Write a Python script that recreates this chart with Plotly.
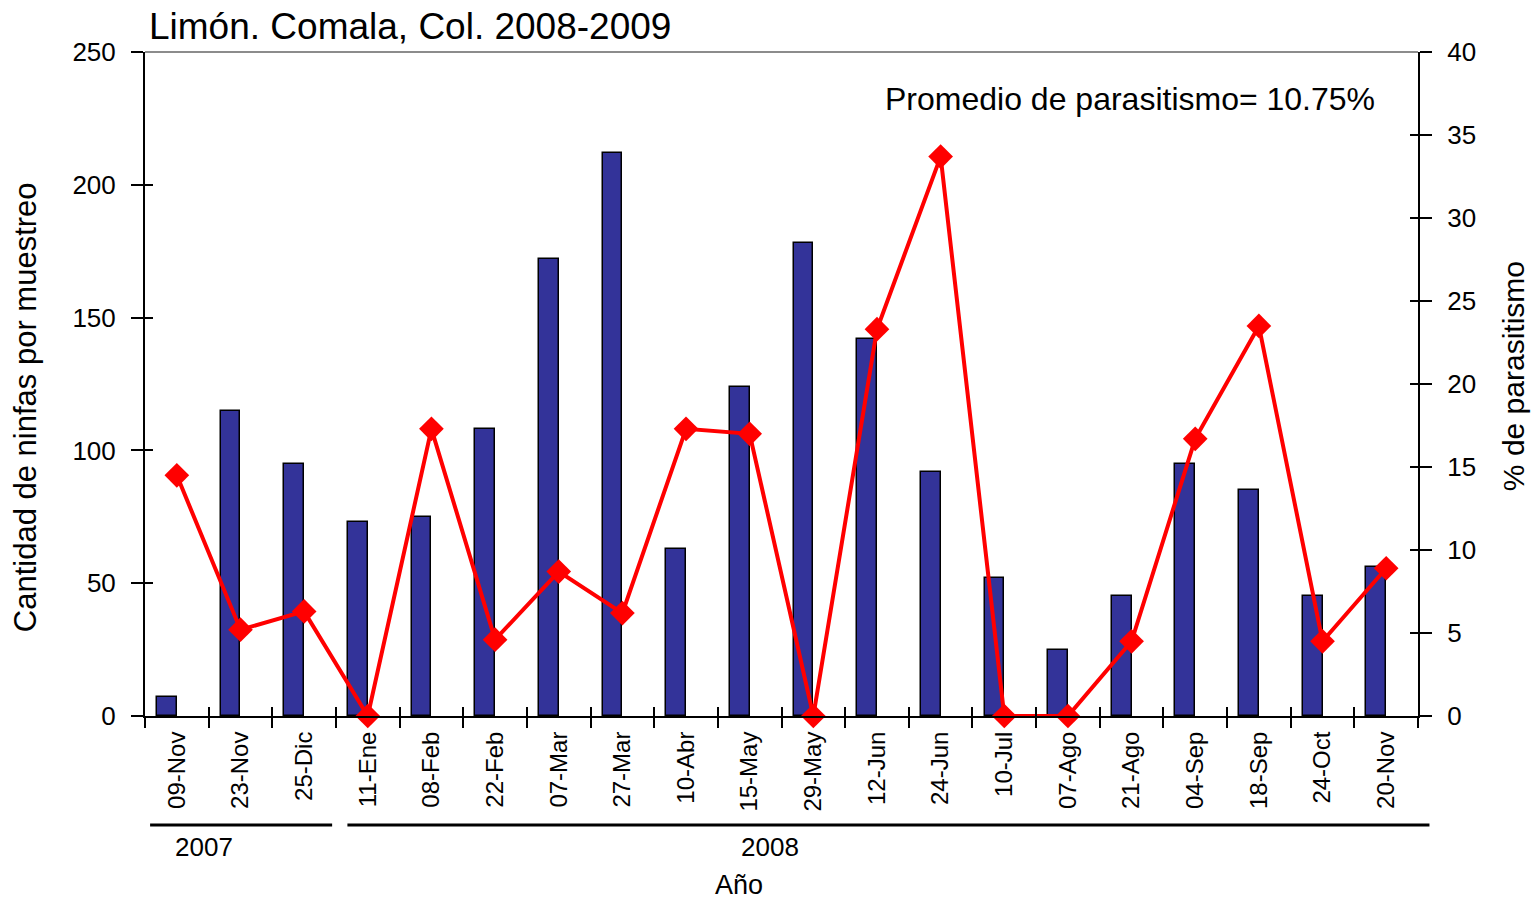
import plotly.graph_objects as go

fechas = ["09-Nov", "23-Nov", "25-Dic", "11-Ene", "08-Feb", "22-Feb", "07-Mar", "27-Mar",
          "10-Abr", "15-May", "29-May", "12-Jun", "24-Jun", "10-Jul", "07-Ago", "21-Ago",
          "04-Sep", "18-Sep", "24-Oct", "20-Nov"]
ninfas = [7, 115, 95, 73, 75, 108, 172, 212, 63, 124, 178, 142, 92, 52, 25, 45, 95, 85, 45, 56]
parasitismo = [14.5, 5.2, 6.3, 0, 17.3, 4.6, 8.7, 6.2, 17.3, 17.0, 0, 23.3, 33.7, 0, 0, 4.5,
               16.7, 23.5, 4.5, 8.9]
anios = ["2007", "2008"]

FONT = "Arial, Liberation Sans, sans-serif"
n = len(fechas)

fig = go.Figure()
fig.add_trace(go.Bar(
    x=fechas, y=ninfas, width=0.31, offset=-0.31,
    marker=dict(color="#333399", line=dict(color="black", width=1.5)),
    xaxis="x", yaxis="y", showlegend=False,
))
fig.add_trace(go.Scatter(
    x=fechas, y=parasitismo, mode="lines+markers",
    line=dict(color="#FF0000", width=4),
    marker=dict(symbol="diamond", size=19, color="#FF0000"),
    xaxis="x", yaxis="y2", cliponaxis=False, showlegend=False,
))
# dummy traces so overlay axes (inside tick halves) are drawn
fig.add_trace(go.Scatter(x=[None], y=[None], xaxis="x3", yaxis="y3", showlegend=False, hoverinfo="skip"))
fig.add_trace(go.Scatter(x=[None], y=[None], xaxis="x3", yaxis="y4", showlegend=False, hoverinfo="skip"))

tick_font = dict(family=FONT, size=26, color="black")

fig.update_layout(
    width=1533, height=900,
    margin=dict(l=145, r=115, t=52, b=184),
    paper_bgcolor="white", plot_bgcolor="white",
    font=dict(family=FONT, color="black"),
    bargap=0,
    xaxis=dict(
        type="category", categoryorder="array", categoryarray=fechas,
        range=[-0.5, n - 0.5], tickson="boundaries",
        ticks="outside", ticklen=10, tickwidth=2, tickcolor="black",
        showline=True, linecolor="black", linewidth=2,
        showgrid=False, zeroline=False,
        tickangle=-90, tickfont=dict(family=FONT, size=24, color="black"),
        ticklabelstandoff=4,
        anchor="y",
    ),
    xaxis3=dict(
        overlaying="x", range=[-0.5, n - 0.5],
        tickmode="array", tickvals=[i - 0.5 for i in range(n + 1)],
        ticks="inside", ticklen=9, tickwidth=2, tickcolor="black",
        showticklabels=False, showline=False, showgrid=False, zeroline=False,
        anchor="y",
    ),
    yaxis=dict(
        range=[0, 250], dtick=50, tick0=0,
        ticks="outside", ticklen=12, tickwidth=2, tickcolor="black",
        showline=True, linecolor="black", linewidth=2,
        showgrid=False, zeroline=False,
        tickfont=tick_font, ticklabelstandoff=10,
    ),
    yaxis2=dict(
        range=[0, 40], dtick=5, tick0=0, overlaying="y", side="right", anchor="x",
        ticks="outside", ticklen=12, tickwidth=2, tickcolor="black",
        showline=True, linecolor="black", linewidth=2,
        showgrid=False, zeroline=False,
        tickfont=tick_font, ticklabelstandoff=10,
    ),
    yaxis3=dict(
        range=[0, 250], dtick=50, tick0=0, overlaying="y", side="left", anchor="x3",
        ticks="inside", ticklen=8, tickwidth=2, tickcolor="black",
        showticklabels=False, showline=False, showgrid=False, zeroline=False,
    ),
    yaxis4=dict(
        range=[0, 40], dtick=5, tick0=0, overlaying="y", side="right", anchor="x3",
        ticks="inside", ticklen=8, tickwidth=2, tickcolor="black",
        showticklabels=False, showline=False, showgrid=False, zeroline=False,
    ),
    shapes=[
        dict(type="line", xref="paper", yref="paper", x0=0, x1=1, y0=1, y1=1,
             line=dict(color="#8c8c8c", width=2)),
        dict(type="line", xref="paper", yref="paper", x0=0.004, x1=0.147, y0=-0.164, y1=-0.164,
             line=dict(color="black", width=3)),
        dict(type="line", xref="paper", yref="paper", x0=0.159, x1=1.009, y0=-0.164, y1=-0.164,
             line=dict(color="black", width=3)),
    ],
    annotations=[
        dict(text="Limón. Comala, Col. 2008-2009", xref="paper", yref="paper",
             x=0.0016, y=1.038, xanchor="left", yanchor="middle", showarrow=False,
             font=dict(family=FONT, size=37, color="black")),
        dict(text="Promedio de parasitismo= 10.75%", xref="paper", yref="paper",
             x=0.968, y=0.929, xanchor="right", yanchor="middle", showarrow=False,
             font=dict(family=FONT, size=32, color="black")),
        dict(text="Cantidad de ninfas por muestreo", xref="paper", yref="paper",
             x=-0.0943, y=0.465, xanchor="center", yanchor="middle", textangle=-90,
             showarrow=False, font=dict(family=FONT, size=31, color="black")),
        dict(text="% de parasitismo", xref="paper", yref="paper",
             x=1.0747, y=0.512, xanchor="center", yanchor="middle", textangle=-90,
             showarrow=False, font=dict(family=FONT, size=30, color="black")),
        dict(text=anios[0], xref="paper", yref="paper",
             x=0.0467, y=-0.197, xanchor="center", yanchor="middle", showarrow=False,
             font=dict(family=FONT, size=26, color="black")),
        dict(text=anios[1], xref="paper", yref="paper",
             x=0.491, y=-0.197, xanchor="center", yanchor="middle", showarrow=False,
             font=dict(family=FONT, size=26, color="black")),
        dict(text="Año", xref="paper", yref="paper",
             x=0.467, y=-0.254, xanchor="center", yanchor="middle", showarrow=False,
             font=dict(family=FONT, size=27, color="black")),
    ],
)

fig.write_html("out.html", config={"displayModeBar": False},
               post_script="document.body.style.margin='0';document.body.style.overflow='hidden';")
